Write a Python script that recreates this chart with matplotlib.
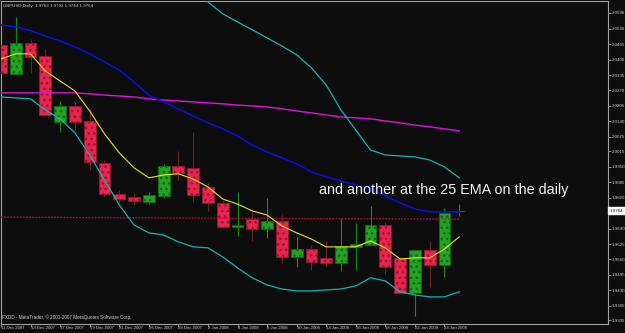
import matplotlib
matplotlib.use('Agg')
import matplotlib.pyplot as plt
import matplotlib.transforms as mtransforms
import numpy as np

plt.rcParams['font.family'] = ['Liberation Sans', 'DejaVu Sans']

# GBPUSD daily bars, 11 Dec 2007 .. 25 Jan 2008
opens = [2.0461, 2.0340, 2.0470, 2.0415, 2.0138, 2.0205, 2.0142, 1.9966,
         1.9835, 1.9823, 1.9802, 1.9827, 1.9953, 1.9945, 1.9865, 1.9798,
         1.9697, 1.9730, 1.9688, 1.9722, 1.9571, 1.9604, 1.9567, 1.9546,
         1.9613, 1.9621, 1.9705, 1.9567, 1.9420, 1.9600, 1.9537, 1.9763]
highs = [2.0483, 2.0579, 2.0487, 2.0445, 2.0226, 2.0222, 2.0193, 1.9978,
         1.9852, 1.9840, 1.9844, 1.9962, 2.0016, 2.0096, 1.9882, 1.9810,
         1.9844, 1.9768, 1.9819, 1.9751, 1.9655, 1.9621, 1.9638, 1.9735,
         1.9714, 1.9785, 1.9718, 1.9571, 1.9600, 1.9638, 1.9777, 1.9792]
lows = [2.0335, 2.0335, 2.0344, 2.0163, 2.0096, 2.0104, 1.9936, 1.9823,
        1.9798, 1.9789, 1.9793, 1.9819, 1.9894, 1.9802, 1.9764, 1.9693,
        1.9659, 1.9638, 1.9651, 1.9546, 1.9529, 1.9516, 1.9529, 1.9512,
        1.9516, 1.9621, 1.9499, 1.9415, 1.9323, 1.9445, 1.9487, 1.9744]
closes = [2.0344, 2.0470, 2.0411, 2.0167, 2.0205, 2.0138, 1.9970, 1.9835,
          1.9814, 1.9806, 1.9831, 1.9953, 1.9924, 1.9831, 1.9798, 1.9697,
          1.9705, 1.9688, 1.9722, 1.9571, 1.9604, 1.9550, 1.9546, 1.9617,
          1.9625, 1.9705, 1.9529, 1.9420, 1.9600, 1.9537, 1.9756, 1.9764]

# indicator lines
ema_fast = [2.0403, 2.0424, 2.0424, 2.0352, 2.0310, 2.0268, 2.0184, 2.0088,
            2.0008, 1.9945, 1.9903, 1.9915, 1.9920, 1.9898, 1.9865, 1.9814,
            1.9793, 1.9764, 1.9747, 1.9701, 1.9672, 1.9646, 1.9613, 1.9613,
            1.9613, 1.9638, 1.9609, 1.9562, 1.9567, 1.9567, 1.9604, 1.9655]
ema_25 = [2.0545, 2.0537, 2.0522, 2.0499, 2.0478, 2.0453, 2.0424, 2.0390,
          2.0356, 2.0306, 2.0251, 2.0222, 2.0193, 2.0163, 2.0134, 2.0109,
          2.0079, 2.0041, 2.0012, 1.9987, 1.9962, 1.9928, 1.9907, 1.9890,
          1.9873, 1.9856, 1.9827, 1.9798, 1.9772, 1.9760, 1.9760, 1.9760]
ema_slow = [2.0260, 2.0260, 2.0260, 2.0260, 2.0260, 2.0260, 2.0256, 2.0251,
            2.0247, 2.0243, 2.0235, 2.0230, 2.0226, 2.0222, 2.0218, 2.0214,
            2.0209, 2.0205, 2.0201, 2.0193, 2.0184, 2.0176, 2.0167, 2.0159,
            2.0155, 2.0151, 2.0142, 2.0134, 2.0125, 2.0117, 2.0109, 2.0100]
band_upper = [np.nan] * 12 + [
    2.0798, 2.0714, 2.0642, 2.0592, 2.0558, 2.0525, 2.0491, 2.0457,
    2.0420, 2.0365, 2.0293, 2.0188, 2.0104, 2.0020, 1.9999, 1.9995,
    1.9991, 1.9978, 1.9949, 1.9903]
band_lower = [2.0243, 2.0239, 2.0235, 2.0188, 2.0151, 2.0092, 1.9999, 1.9894,
              1.9789, 1.9705, 1.9672, 1.9663, 1.9634, 1.9613, 1.9609, 1.9571,
              1.9525, 1.9483, 1.9453, 1.9436, 1.9428, 1.9428, 1.9432, 1.9436,
              1.9449, 1.9483, 1.9470, 1.9424, 1.9411, 1.9403, 1.9403, 1.9424]
ema_200 = [1.9738, 1.9738, 1.9737, 1.9737, 1.9737, 1.9736, 1.9736, 1.9736,
           1.9735, 1.9735, 1.9735, 1.9734, 1.9734, 1.9734, 1.9734, 1.9733,
           1.9733, 1.9733, 1.9733, 1.9732, 1.9732, 1.9732, 1.9732, 1.9731,
           1.9731, 1.9731, 1.9731, 1.9730, 1.9730, 1.9730, 1.9730, 1.9730]

date_labels = ['11 Dec 2007', '13 Dec 2007', '17 Dec 2007', '19 Dec 2007',
               '21 Dec 2007', '26 Dec 2007', '28 Dec 2007', '2 Jan 2008',
               '4 Jan 2008', '8 Jan 2008', '10 Jan 2008', '14 Jan 2008',
               '16 Jan 2008', '18 Jan 2008', '22 Jan 2008', '24 Jan 2008']
price_labels = ['2.0596', '2.0530', '2.0465', '2.0400', '2.0335', '2.0270',
                '2.0205', '2.0140', '2.0075', '2.0015', '1.9950', '1.9885',
                '1.9820', '1.9690', '1.9625', '1.9560', '1.9495', '1.9430',
                '1.9365', '1.9305']

bg = '#0d0d0d'
frame = '#a0a0a0'
txt = '#cfcfcf'
bull, bull_edge = '#24a024', '#0f6a0f'
bear, bear_edge = '#e8234d', '#8c1a30'

fig = plt.figure(figsize=(6.25, 3.33), dpi=100, facecolor=bg)
ax = fig.add_axes([0.0008, 9 / 333, 607 / 625, 323 / 333])
ax.set_facecolor(bg)

x = np.arange(len(opens))
o = np.array(opens)
c = np.array(closes)
up = c >= o

# wicks
ax.vlines(x[up], np.array(lows)[up], np.array(highs)[up], color='#178c17', lw=0.8, zorder=2)
ax.vlines(x[~up], np.array(lows)[~up], np.array(highs)[~up], color='#6a2424', lw=0.8, zorder=2)

# bodies
body_h = np.maximum(np.abs(c - o), 0.00004)
ax.bar(x[up], body_h[up], bottom=np.minimum(o, c)[up], width=0.8,
       color=bull, edgecolor=bull_edge, linewidth=0.7, hatch='...', zorder=3)
ax.bar(x[~up], body_h[~up], bottom=np.minimum(o, c)[~up], width=0.8,
       color=bear, edgecolor=bear_edge, linewidth=0.7, hatch='...', zorder=3)

# indicators
ax.plot(x, ema_200, color='#b0122e', lw=0.9, dashes=(1.5, 1), zorder=4)
ax.plot(x, ema_slow, color='#dc14dc', lw=1.0, zorder=4)
ax.plot(x, band_upper, color='#17b3b3', lw=0.9, zorder=4)
ax.plot(x, band_lower, color='#17b3b3', lw=0.9, zorder=4)
ax.plot(x, ema_25, color='#0a0aff', lw=1.0, zorder=4)
ax.plot(x, ema_fast, color='#e6e61a', lw=0.8, zorder=5)

ax.set_xlim(-0.034, 41.03)
ax.set_ylim(1.9289, 2.0646)

# axes
for s in ax.spines.values():
    s.set_color(frame)
    s.set_linewidth(0.8)
ax.yaxis.tick_right()
ax.set_yticks([float(v) for v in price_labels])
ax.set_yticklabels(price_labels)
ax.set_xticks(x[::2])
ax.set_xticklabels(date_labels, ha='left')
ax.tick_params(axis='y', colors=frame, labelcolor=txt, labelsize=3.2,
               length=2.2, width=0.6, pad=1)
ax.tick_params(axis='x', colors=frame, labelcolor=txt, labelsize=3.1,
               length=2.5, width=0.6, pad=-1.2)

# current price box
trans = mtransforms.blended_transform_factory(ax.transAxes, ax.transData)
ax.text(1.004, closes[-1], '%.4f' % closes[-1], transform=trans, fontsize=3.2,
        color='black', va='center', ha='left', clip_on=False,
        bbox=dict(boxstyle='square,pad=0.35', fc='white', ec='white'), zorder=10)

ax.text(0.004, 0.985, 'GBPUSD,Daily  %.4f %.4f %.4f %.4f' % (opens[-1], highs[-1], lows[-1], closes[-1]),
        transform=ax.transAxes, fontsize=3.2, color=txt, va='center', ha='left', zorder=10)
ax.text(0.003, 0.02, 'FXDD - MetaTrader, \u00a9 2001-2007 MetaQuotes Software Corp.',
        transform=ax.transAxes, fontsize=3.3, color=txt, va='center', ha='left', zorder=10)

ax.text(21.5, 1.9852, 'and another at the 25 EMA on the daily', fontsize=10.4,
        color='#f2f2f2', va='center', ha='left', zorder=10)

fig.savefig('out.png', dpi=100, facecolor=bg)
